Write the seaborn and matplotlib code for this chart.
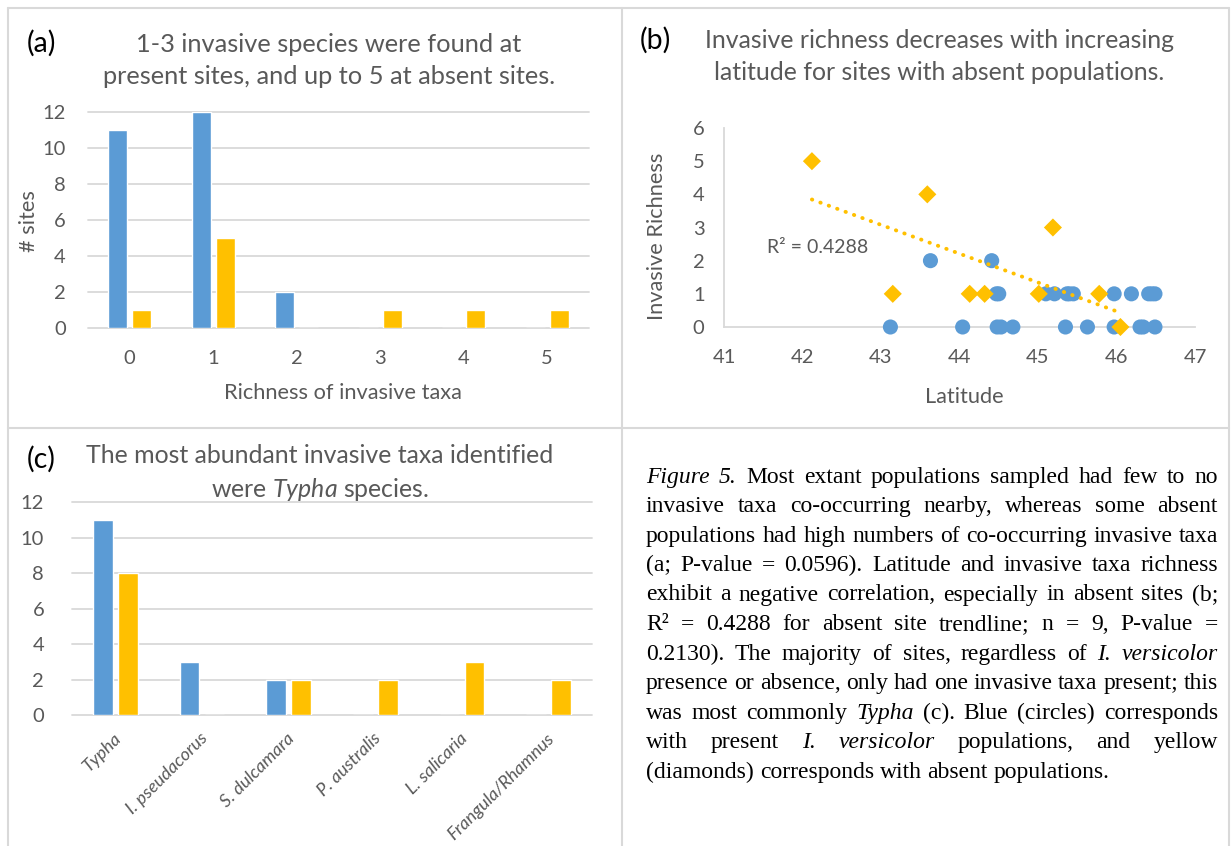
import numpy as np
import pandas as pd
import seaborn as sns
import matplotlib.pyplot as plt
from matplotlib.lines import Line2D
from matplotlib.transforms import ScaledTranslation

# panel (a): richness of invasive taxa per site
richness = [0, 1, 2, 3, 4, 5]
present_counts = [11, 12, 2, 0, 0, 0]
absent_counts = [1, 5, 0, 1, 1, 1]

# panel (b): latitude vs invasive richness
present_lat = [43.12, 44.04, 44.48, 44.53, 44.68, 45.35, 45.63, 45.97, 46.30, 46.34, 46.49,
               44.47, 44.50, 45.10, 45.21, 45.37, 45.40, 45.45, 45.97, 46.19, 46.41, 46.45, 46.49,
               43.63, 44.41]
present_rich = [0] * 11 + [1] * 12 + [2] * 2
absent_lat = [42.12, 43.59, 45.19, 43.15, 44.13, 44.32, 45.01, 45.78, 46.05]
absent_rich = [5, 4, 3, 1, 1, 1, 1, 1, 0]

# panel (c): most abundant invasive taxa
taxa = ["Typha", "I. pseudacorus", "S. dulcamara", "P. australis", "L. salicaria", "Frangula/Rhamnus"]
taxa_present = [11, 3, 2, 0, 0, 0]
taxa_absent = [8, 0, 2, 2, 3, 2]

caption = [
    "_Figure _5. Most extant populations sampled had few to no",
    "invasive taxa co-occurring nearby, whereas some absent",
    "populations had high numbers of co-occurring invasive taxa",
    "(a; P-value = 0.0596). Latitude and invasive taxa richness",
    "exhibit a negative correlation, especially in absent sites (b;",
    "R\u00b2 = 0.4288 for absent site trendline; n = 9, P-value =",
    "0.2130). The majority of sites, regardless of _I. _versicolor",
    "presence or absence, only had one invasive taxa present; this",
    "was most commonly _Typha (c). Blue (circles) corresponds",
    "with present _I. _versicolor populations, and yellow",
    "(diamonds) corresponds with absent populations.",
]

BLUE = "#5B9BD5"
ORANGE = "#FFC000"
GREY = "#595959"
GRID = "#D9D9D9"
W, H = 1231, 846
TITLE = 17.9
LABEL = 15.7
TICK = 14.5

sns.set_theme(style="white")
plt.rcParams["font.family"] = ["Lato", "DejaVu Sans"]
plt.rcParams["mathtext.fontset"] = "custom"
plt.rcParams["mathtext.it"] = "Lato:italic"
plt.rcParams["mathtext.rm"] = "Lato"

fig = plt.figure(figsize=(W / 100, H / 100), dpi=100)


def fx(px):
    return px / W


def fy(py):
    return 1 - py / H


def box(x0, y0, x1, y1):
    return [fx(x0), fy(y1), fx(x1) - fx(x0), fy(y0) - fy(y1)]


# panel borders
for (xa, ya, xb, yb) in [(8, 8, 1229, 8), (8, 428, 1229, 428), (8, 8, 8, 846),
                         (622, 8, 622, 846), (1229, 8, 1229, 846)]:
    fig.add_artist(Line2D([fx(xa), fx(xb)], [fy(ya), fy(yb)], color=GRID, lw=1.5))


def style_bars(ax):
    ax.set_ylim(0, 12)
    ax.set_yticks(range(0, 13, 2))
    ax.yaxis.grid(True, color=GRID, lw=1.3)
    ax.set_axisbelow(True)
    sns.despine(ax=ax, left=True, bottom=True)
    ax.tick_params(length=0, colors=GREY, labelsize=TICK)
    for gl in ax.get_ygridlines():
        gl.set_clip_on(False)
    ax.set_xlabel("")
    ax.set_ylabel("")


# ---- (a)
ax_a = fig.add_axes(box(88, 112, 589, 328))
df_a = pd.DataFrame({"richness": richness * 2,
                     "count": present_counts + absent_counts,
                     "group": ["present"] * 6 + ["absent"] * 6})
sns.barplot(data=df_a, x="richness", y="count", hue="group", palette=[BLUE, ORANGE],
            saturation=1, width=0.58, gap=0.22, legend=False, ax=ax_a)
style_bars(ax_a)
ax_a.tick_params(axis="x", pad=16)
ax_a.tick_params(axis="y", pad=16)

fig.text(fx(27), fy(43), "(a)", fontsize=20.5, color="black", va="center")
fig.text(fx(329), fy(45), "1-3 invasive species were found at", fontsize=18.3, color=GREY, ha="center", va="center")
fig.text(fx(329), fy(76), "present sites, and up to 5 at absent sites.", fontsize=18.3, color=GREY, ha="center", va="center")
fig.text(fx(29), fy(221), "# sites", fontsize=LABEL, color=GREY, rotation=90, ha="center", va="center")
fig.text(fx(343), fy(393), "Richness of invasive taxa", fontsize=LABEL, color=GREY, ha="center", va="center")

# ---- (b)
ax_b = fig.add_axes(box(724, 128, 1195, 327))
sns.scatterplot(x=present_lat, y=present_rich, color=BLUE, marker="o", s=118,
                edgecolor="none", clip_on=False, zorder=3, ax=ax_b)
sns.scatterplot(x=absent_lat, y=absent_rich, color=ORANGE, marker="D", s=85,
                edgecolor="none", clip_on=False, zorder=4, ax=ax_b)
sns.regplot(x=absent_lat, y=absent_rich, scatter=False, ci=None, color=ORANGE, truncate=True,
            line_kws=dict(lw=2.8, ls=(0, (0.1, 2.2)), dash_capstyle="round", zorder=5), ax=ax_b)
ax_b.set_xlim(41, 47)
ax_b.set_ylim(0, 6)
ax_b.set_xticks(range(41, 48))
ax_b.set_yticks(range(0, 7))
sns.despine(ax=ax_b)
for side in ["left", "bottom"]:
    ax_b.spines[side].set_color(GRID)
    ax_b.spines[side].set_linewidth(1.3)
ax_b.tick_params(length=0, colors=GREY, labelsize=TICK)
ax_b.tick_params(axis="x", pad=16)
ax_b.tick_params(axis="y", pad=14)
ax_b.text(41.55, 2.4, "R\u00b2 = 0.4288", fontsize=14, color=GREY, va="center")

fig.text(fx(640), fy(40), "(b)", fontsize=20.5, color="black", va="center")
fig.text(fx(939), fy(40), "Invasive richness decreases with increasing", fontsize=TITLE, color=GREY, ha="center", va="center")
fig.text(fx(939), fy(72), "latitude for sites with absent populations.", fontsize=TITLE, color=GREY, ha="center", va="center")
fig.text(fx(657), fy(236), "Invasive Richness", fontsize=LABEL, color=GREY, rotation=90, ha="center", va="center")
fig.text(fx(964), fy(397), "Latitude", fontsize=LABEL, color=GREY, ha="center", va="center")

# ---- (c)
ax_c = fig.add_axes(box(72, 502, 592, 715))
df_c = pd.DataFrame({"taxon": taxa * 2,
                     "count": taxa_present + taxa_absent,
                     "group": ["present"] * 6 + ["absent"] * 6})
sns.barplot(data=df_c, x="taxon", y="count", hue="group", palette=[BLUE, ORANGE],
            saturation=1, width=0.58, gap=0.22, legend=False, ax=ax_c)
style_bars(ax_c)
ax_c.tick_params(axis="y", pad=20)
ax_c.tick_params(axis="x", pad=15)
shift = ScaledTranslation(3 / 100, 0, fig.dpi_scale_trans)
for lab in ax_c.get_xticklabels():
    lab.set_rotation(45)
    lab.set_ha("right")
    lab.set_va("center")
    lab.set_rotation_mode("anchor")
    lab.set_fontstyle("italic")
    lab.set_fontsize(13)
    lab.set_transform(lab.get_transform() + shift)

fig.text(fx(27), fy(459), "(c)", fontsize=20.5, color="black", va="center")
fig.text(fx(320), fy(455), "The most abundant invasive taxa identified", fontsize=TITLE, color=GREY, ha="center", va="center")
fig.text(fx(320), fy(489), r"were $\it{Typha}$ species.", fontsize=TITLE, color=GREY, ha="center", va="center")

# ---- caption, justified (size fitted so the tightest line fills the column)
fig.canvas.draw()
rend = fig.canvas.get_renderer()
x_left, x_right = 646, 1218
base = 14.5
lines = []
widest = 0
for line in caption:
    objs = []
    for word in line.split(" "):
        italic = word.startswith("_")
        t = fig.text(0, 0, word.lstrip("_"), fontsize=base, family="Liberation Serif",
                     fontstyle="italic" if italic else "normal", color="black", va="center")
        objs.append(t)
    ws = sum(t.get_window_extent(rend).width for t in objs)
    widest = max(widest, ws + 0.25 * base * 100 / 72 * (len(objs) - 1))
    lines.append(objs)
size = base * (x_right - x_left) / widest
y_line = 477
for i, objs in enumerate(lines):
    for t in objs:
        t.set_fontsize(size)
    widths = [t.get_window_extent(rend).width for t in objs]
    if i < len(lines) - 1:
        space = (x_right - x_left - sum(widths)) / (len(objs) - 1)
    else:
        space = 0.25 * size * 100 / 72
    x = x_left
    for t, w in zip(objs, widths):
        t.set_position((fx(x), fy(y_line)))
        x += w + space
    y_line += 29.5

fig.savefig("out.png", dpi=100)
